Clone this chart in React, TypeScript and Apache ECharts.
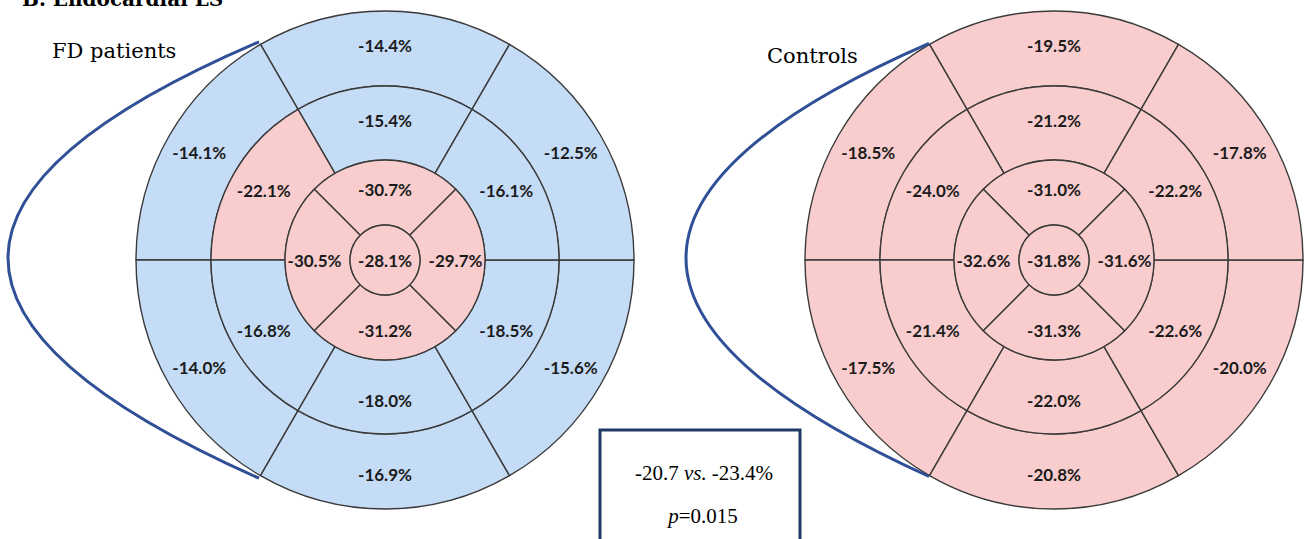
import React, { useEffect, useRef } from "react";
import * as echarts from "echarts";

// 17-segment AHA bullseye: basal / mid (6 segments), apical (4), apex (1)
const sixSegments = ["Anterior", "Anteroseptal", "Inferoseptal", "Inferior", "Inferolateral", "Anterolateral"];
const fourSegments = ["Anterior", "Septal", "Inferior", "Lateral"];
const apexSegment = ["Apex"];

// FD patients — endocardial longitudinal strain (%)
const fdBasal = [-14.4, -14.1, -14.0, -16.9, -15.6, -12.5];
const fdMid = [-15.4, -22.1, -16.8, -18.0, -18.5, -16.1];
const fdApical = [-30.7, -30.5, -31.2, -29.7];
const fdApex = [-28.1];

// Controls — endocardial longitudinal strain (%)
const ctrlBasal = [-19.5, -18.5, -17.5, -20.8, -20.0, -17.8];
const ctrlMid = [-21.2, -24.0, -21.4, -22.0, -22.6, -22.2];
const ctrlApical = [-31.0, -32.6, -31.3, -31.6];
const ctrlApex = [-31.8];

// colour class of each segment: 0 = blue (reduced), 1 = pink
const fdClassBasal = [0, 0, 0, 0, 0, 0];
const fdClassMid = [0, 1, 0, 0, 0, 0];
const fdClassApical = [1, 1, 1, 1];
const fdClassApex = [1];
const ctrlClassBasal = [1, 1, 1, 1, 1, 1];
const ctrlClassMid = [1, 1, 1, 1, 1, 1];
const ctrlClassApical = [1, 1, 1, 1];
const ctrlClassApex = [1];

const panelTitles = ["FD patients", "Controls"];
const figureTitle = "B. Endocardial LS";
const globalValues = ["-20.7", "-23.4%"];
const pValue = "0.015";

const palette = ["#c5dcf7", "#f9cdcd"];

// layout
const W = 1308;
const H = 539;
const ringRadii = [0, 35, 100, 174, 249];
const fdCenter = [385, 260];
const ctrlCenter = [1054, 260];

function ring(center: number[], r0: number, r1: number, startAngle: number, names: string[], values: number[], classes: number[]) {
  return {
    type: "pie",
    center,
    radius: [r0, r1],
    startAngle,
    clockwise: false,
    silent: true,
    animation: false,
    avoidLabelOverlap: false,
    minShowLabelAngle: 0,
    label: {
      show: true,
      position: values.length === 1 ? "center" : "inside",
      rotate: 0,
      formatter: (p: any) => `${p.data.strain.toFixed(1)}%`,
      fontFamily: "Lato",
      fontWeight: "bold",
      fontSize: 17,
      color: "#1b1b1b",
    },
    labelLine: { show: false },
    emphasis: { disabled: true },
    itemStyle: { borderColor: "#3a3a3a", borderWidth: 1.4 },
    data: values.map((v, i) => ({
      name: names[i],
      value: 1,
      strain: v,
      itemStyle: { color: palette[classes[i]] },
    })),
  };
}

function bullseye(center: number[], basal: number[], mid: number[], apical: number[], apex: number[], cb: number[], cm: number[], ca: number[], cx: number[]) {
  return [
    ring(center, ringRadii[3], ringRadii[4], 60, sixSegments, basal, cb),
    ring(center, ringRadii[2], ringRadii[3], 60, sixSegments, mid, cm),
    ring(center, ringRadii[1], ringRadii[2], 45, fourSegments, apical, ca),
    ring(center, ringRadii[0], ringRadii[1], 90, apexSegment, apex, cx),
  ];
}

function bracket(center: number[], tipX: number, ext: number) {
  const r = ringRadii[4] + ext;
  const x1 = center[0] + r * Math.cos((120 * Math.PI) / 180);
  const y1 = center[1] - r * Math.sin((120 * Math.PI) / 180);
  const x2 = center[0] + r * Math.cos((240 * Math.PI) / 180);
  const y2 = center[1] - r * Math.sin((240 * Math.PI) / 180);
  const tipY = center[1] - 2;
  const cpx = 2 * tipX - (x1 + x2) / 2;
  const cpy = 2 * tipY - (y1 + y2) / 2;
  return {
    type: "bezierCurve",
    shape: { x1, y1, x2, y2, cpx1: cpx, cpy1: cpy },
    style: { stroke: "#2f5096", lineWidth: 3, fill: null },
    z: 10,
  };
}

export default function App() {
  const ref = useRef<HTMLDivElement>(null);
  useEffect(() => {
    if (!ref.current) return;
    const chart = echarts.init(ref.current, null, { renderer: "svg" });
    const serif = '"DejaVu Serif", serif';
    const boxSerif = '"Liberation Serif", serif';
    const boxRich = {
      n: { fontFamily: boxSerif, fontSize: 21, fill: "#000" },
      i: { fontFamily: boxSerif, fontSize: 21, fontStyle: "italic", fill: "#000" },
    };
    chart.setOption({
      animation: false,
      backgroundColor: "#ffffff",
      series: [
        ...bullseye(fdCenter, fdBasal, fdMid, fdApical, fdApex, fdClassBasal, fdClassMid, fdClassApical, fdClassApex),
        ...bullseye(ctrlCenter, ctrlBasal, ctrlMid, ctrlApical, ctrlApex, ctrlClassBasal, ctrlClassMid, ctrlClassApical, ctrlClassApex),
      ],
      graphic: [
        {
          type: "text",
          x: 22,
          y: 9,
          style: { text: figureTitle, font: `bold 20px ${serif}`, fill: "#000", align: "left", verticalAlign: "bottom" },
        },
        {
          type: "text",
          x: 52,
          y: 51,
          style: { text: panelTitles[0], font: `21px ${serif}`, fill: "#000", align: "left", verticalAlign: "middle" },
        },
        {
          type: "text",
          x: 767,
          y: 56,
          style: { text: panelTitles[1], font: `21px ${serif}`, fill: "#000", align: "left", verticalAlign: "middle" },
        },
        bracket(fdCenter, 8, 3),
        bracket(ctrlCenter, 686, 1),
        {
          type: "rect",
          shape: { x: 600, y: 430, width: 200, height: 140 },
          style: { fill: "#ffffff", stroke: "#1f3864", lineWidth: 3 },
          z: 5,
        },
        {
          type: "text",
          x: 704,
          y: 473,
          z: 6,
          style: {
            text: `{n|${globalValues[0]} }{i|vs.}{n| ${globalValues[1]}}`,
            align: "center",
            verticalAlign: "middle",
            fill: "#000",
            rich: boxRich,
          },
        },
        {
          type: "text",
          x: 703,
          y: 516,
          z: 6,
          style: {
            text: `{i|p}{n|=${pValue}}`,
            align: "center",
            verticalAlign: "middle",
            fill: "#000",
            rich: boxRich,
          },
        },
      ],
    });
    return () => chart.dispose();
  }, []);
  return <div ref={ref} style={{ position: "fixed", left: 0, top: 0, width: W, height: H }} />;
}
